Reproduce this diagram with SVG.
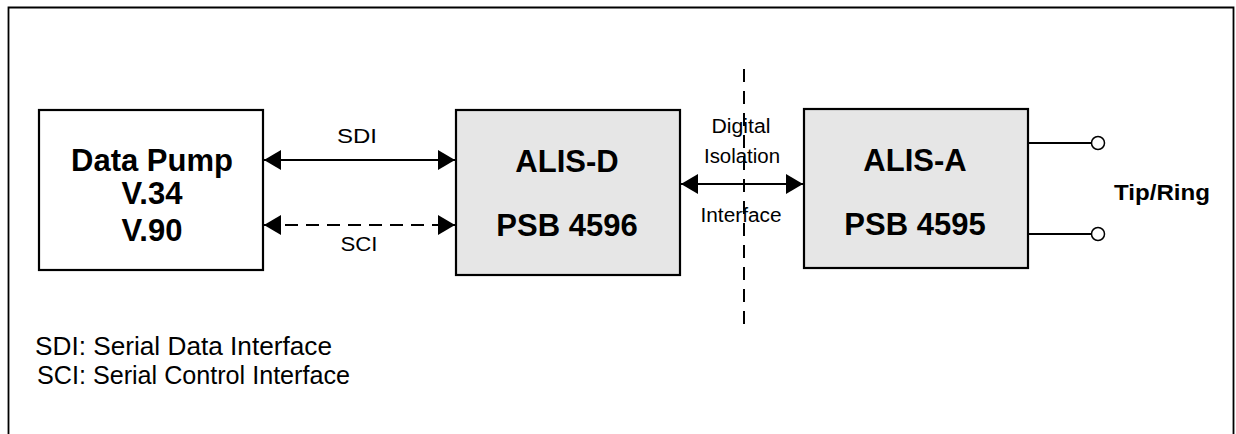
<svg xmlns="http://www.w3.org/2000/svg" width="1236" height="434" viewBox="0 0 1236 434">
<style>
  .frame{fill:none;stroke:#000;stroke-width:1.8}
  .box{stroke:#000;stroke-width:2.2}
  .white{fill:#fff}
  .grey{fill:#e6e6e6}
  .big{font-family:"Liberation Sans",Arial,sans-serif;font-weight:bold;font-size:31px;fill:#000;text-anchor:middle}
  .lbl{font-family:"Liberation Sans",Arial,sans-serif;font-size:20px;fill:#000;text-anchor:middle}
  .legend{font-family:"Liberation Sans",Arial,sans-serif;font-size:25px;fill:#000}
  .tr{font-family:"Liberation Sans",Arial,sans-serif;font-weight:bold;font-size:22px;fill:#000;text-anchor:middle}
  .conn{stroke:#000;stroke-width:2;fill:none}
  .dash{stroke-dasharray:13 8}
  .vdash{stroke:#000;stroke-width:2;stroke-dasharray:13 9;fill:none}
  .term{fill:#fff;stroke:#000;stroke-width:1.5}
</style>
<defs>
  <marker id="ah" viewBox="0 0 17 20" refX="17" refY="10" markerWidth="17" markerHeight="20" markerUnits="userSpaceOnUse" orient="auto-start-reverse">
    <path d="M0,0 L17,10 L0,20 Z" fill="#000"/>
  </marker>
</defs>
<rect width="1236" height="434" fill="#fff"/>
<path class="frame" d="M8.5,440 L8.5,7.5 L1233.5,7.5 L1233.5,440"/>

<g id="connectors">
  <line class="conn" x1="264" y1="160" x2="455" y2="160" marker-start="url(#ah)" marker-end="url(#ah)"/>
  <line class="conn dash" x1="264" y1="225" x2="455" y2="225" marker-start="url(#ah)" marker-end="url(#ah)"/>
  <line class="conn" x1="681" y1="184" x2="803" y2="184" marker-start="url(#ah)" marker-end="url(#ah)"/>
  <line class="conn" x1="1028" y1="143" x2="1092" y2="143"/>
  <line class="conn" x1="1028" y1="234" x2="1092" y2="234"/>
  <circle class="term" cx="1098" cy="143" r="6.5"/>
  <circle class="term" cx="1098" cy="234" r="6.5"/>
  <text class="lbl" x="357" y="143" font-size="21" textLength="40" lengthAdjust="spacingAndGlyphs">SDI</text>
  <text class="lbl" x="359" y="251" font-size="21" textLength="37" lengthAdjust="spacingAndGlyphs">SCI</text>
</g>

<g id="isolation">
  <line class="vdash" x1="744" y1="69" x2="744" y2="324"/>
  <text class="lbl" x="741" y="133" textLength="59" lengthAdjust="spacingAndGlyphs">Digital</text>
  <text class="lbl" x="742" y="163" textLength="76" lengthAdjust="spacingAndGlyphs">Isolation</text>
  <text class="lbl" x="741" y="222" textLength="81" lengthAdjust="spacingAndGlyphs">Interface</text>
</g>

<g id="data-pump">
  <rect class="box white" x="39" y="110" width="224" height="160"/>
  <text class="big" x="152" y="171" font-size="32">Data Pump</text>
  <text class="big" x="152" y="204" font-size="32">V.34</text>
  <text class="big" x="152" y="241" font-size="32">V.90</text>
</g>

<g id="alis-d">
  <rect class="box grey" x="456" y="110" width="224" height="165"/>
  <text class="big" x="567" y="172">ALIS-D</text>
  <text class="big" x="567" y="236">PSB 4596</text>
</g>

<g id="alis-a">
  <rect class="box grey" x="804" y="109" width="224" height="159"/>
  <text class="big" x="915" y="171">ALIS-A</text>
  <text class="big" x="915" y="235">PSB 4595</text>
</g>

<g id="tip-ring">
  <text class="tr" x="1162" y="200" textLength="96" lengthAdjust="spacingAndGlyphs">Tip/Ring</text>
</g>

<g id="legend">
  <text class="legend" x="35" y="355" textLength="297" lengthAdjust="spacingAndGlyphs">SDI: Serial Data Interface</text>
  <text class="legend" x="37" y="384" textLength="313" lengthAdjust="spacingAndGlyphs">SCI: Serial Control Interface</text>
</g>
</svg>
